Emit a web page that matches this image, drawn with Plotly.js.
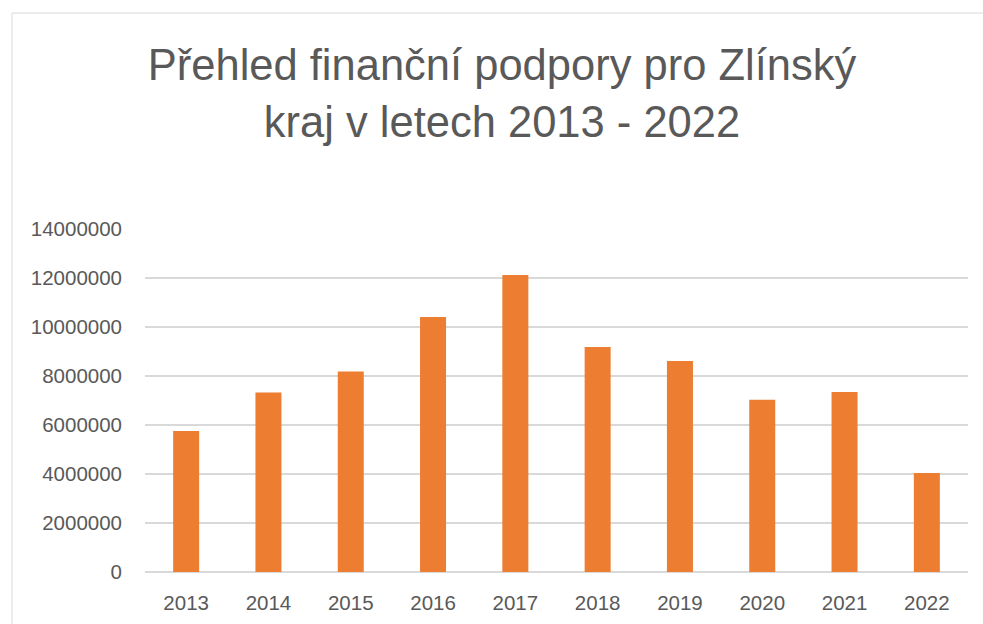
<!DOCTYPE html>
<html><head><meta charset="utf-8">
<script src="https://cdn.plot.ly/plotly-3.0.1.min.js"></script>
<style>body{margin:0;background:#fff}#c{width:983px;height:624px}</style>
</head><body><div id="c"></div>
<script>
const years = ['2013','2014','2015','2016','2017','2018','2019','2020','2021','2022'];
const values = [5760000, 7330000, 8180000, 10410000, 12120000, 9180000, 8610000, 7030000, 7350000, 4040000];
const yTicks = [0, 2000000, 4000000, 6000000, 8000000, 10000000, 12000000, 14000000];
const titleText = 'Přehled finanční podpory pro Zlínský<br>kraj v letech 2013 - 2022';

const gray = '#595959';
Plotly.newPlot('c', [{
  type: 'bar', x: years, y: values,
  marker: {color: '#ED7D31'},
  hoverinfo: 'x+y'
}], {
  width: 983, height: 624,
  margin: {l: 145, r: 15, t: 229, b: 52},
  paper_bgcolor: '#fff', plot_bgcolor: '#fff',
  bargap: 0.684,
  font: {family: 'Liberation Sans, Arial, sans-serif', color: gray},
  title: {text: titleText, font: {size: 43.5, color: gray, family: 'Liberation Sans, Arial, sans-serif'},
          xref: 'container', x: 502/983, xanchor: 'center', yref: 'container', y: 1 - 80/624, yanchor: 'top'},
  xaxis: {type: 'category', tickfont: {size: 20.5, color: gray}, ticks: '', showline: false,
          showgrid: false, ticklabelstandoff: 16},
  yaxis: {range: [0, 14000000], tickvals: yTicks, ticktext: yTicks.map(String),
          tickfont: {size: 20.5, color: gray}, gridcolor: '#d9d9d9', gridwidth: 1.5,
          zeroline: true, zerolinecolor: '#d9d9d9', zerolinewidth: 1.5, ticks: '', ticklabelstandoff: 22},
  shapes: [{type: 'rect', xref: 'paper', yref: 'paper',
            x0: (12-145)/823, x1: (990-145)/823, y0: (572-640)/343, y1: (572-13)/343,
            line: {color: '#d9d9d9', width: 1}, layer: 'below'}],
  showlegend: false
}, {displayModeBar: false, staticPlot: true});
</script></body></html>
